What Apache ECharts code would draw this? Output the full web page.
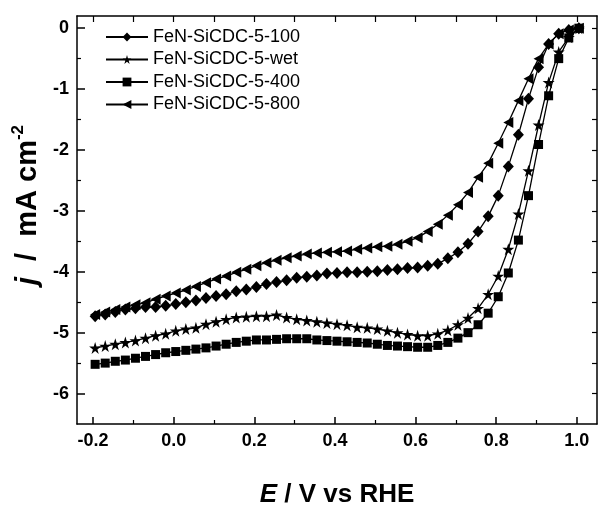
<!DOCTYPE html>
<html>
<head>
<meta charset="utf-8">
<script src="https://cdn.jsdelivr.net/npm/echarts@6/dist/echarts.min.js"></script>
<style>html,body{margin:0;padding:0;background:#fff}#c{width:598px;height:506px}</style>
</head>
<body>
<div id="c"></div>
<script>
const potentials = [-0.195,-0.17,-0.145,-0.12,-0.095,-0.07,-0.045,-0.02,0.005,0.03,0.055,0.08,0.105,0.13,0.155,0.18,0.205,0.23,0.255,0.28,0.305,0.33,0.355,0.38,0.405,0.43,0.455,0.48,0.505,0.53,0.555,0.58,0.605,0.63,0.655,0.68,0.705,0.73,0.755,0.78,0.805,0.83,0.855,0.88,0.905,0.93,0.955,0.98,1.005];
const s100 = [-4.73,-4.70,-4.66,-4.62,-4.60,-4.58,-4.58,-4.56,-4.53,-4.50,-4.47,-4.43,-4.40,-4.37,-4.32,-4.29,-4.25,-4.20,-4.17,-4.14,-4.10,-4.08,-4.06,-4.03,-4.02,-4.01,-4.01,-4.00,-3.99,-3.97,-3.96,-3.94,-3.93,-3.90,-3.87,-3.78,-3.68,-3.54,-3.34,-3.09,-2.75,-2.27,-1.75,-1.16,-0.64,-0.26,-0.09,-0.03,0.0];
const sWet = [-5.25,-5.22,-5.19,-5.16,-5.13,-5.09,-5.05,-5.02,-4.97,-4.94,-4.92,-4.86,-4.82,-4.78,-4.75,-4.74,-4.73,-4.73,-4.71,-4.75,-4.78,-4.80,-4.82,-4.84,-4.86,-4.88,-4.91,-4.92,-4.94,-4.97,-5.00,-5.03,-5.05,-5.05,-5.02,-4.96,-4.87,-4.76,-4.60,-4.37,-4.07,-3.63,-3.05,-2.34,-1.59,-0.89,-0.39,-0.15,0.0];
const s400 = [-5.52,-5.50,-5.47,-5.45,-5.42,-5.39,-5.36,-5.33,-5.31,-5.29,-5.27,-5.25,-5.22,-5.19,-5.16,-5.14,-5.12,-5.12,-5.11,-5.10,-5.10,-5.10,-5.12,-5.13,-5.14,-5.15,-5.16,-5.17,-5.19,-5.21,-5.22,-5.23,-5.24,-5.24,-5.21,-5.16,-5.09,-5.00,-4.87,-4.68,-4.41,-4.02,-3.48,-2.75,-1.91,-1.11,-0.50,-0.16,0.0];
const s800 = [-4.70,-4.66,-4.62,-4.58,-4.54,-4.51,-4.45,-4.40,-4.35,-4.30,-4.24,-4.18,-4.12,-4.07,-4.01,-3.96,-3.90,-3.85,-3.81,-3.77,-3.74,-3.71,-3.69,-3.68,-3.67,-3.66,-3.63,-3.61,-3.59,-3.58,-3.55,-3.50,-3.44,-3.34,-3.22,-3.07,-2.90,-2.70,-2.45,-2.22,-1.89,-1.55,-1.19,-0.83,-0.50,-0.26,-0.09,-0.03,0.0];
const seriesNames = ['FeN-SiCDC-5-100','FeN-SiCDC-5-wet','FeN-SiCDC-5-400','FeN-SiCDC-5-800'];
const xTicks = [-0.2,0.0,0.2,0.4,0.6,0.8,1.0];
const xMinorTicks = [-0.1,0.1,0.3,0.5,0.7,0.9];
const xTopTicks = [-0.2,-0.1,0.0,0.1,0.2,0.3,0.4,0.5,0.6,0.7,0.8,0.9,1.0];
const yTicks = [0,-1,-2,-3,-4,-5,-6];
const yMinorTicks = [-0.5,-1.5,-2.5,-3.5,-4.5,-5.5];
const yRightTicks = [0,-0.5,-1,-1.5,-2,-2.5,-3,-3.5,-4,-4.5,-5,-5.5,-6];

const XMIN = -0.24, XMAX = 1.05, YMIN = -6.5, YMAX = 0.2;
const FONT = 'Liberation Sans, Arial, sans-serif';
const STAR = 'path://M50,0 L61,35 L98,35 L68,57 L79,91 L50,70 L21,91 L32,57 L2,35 L39,35 Z';

function pairs(ys){ return potentials.map((x,i)=>[x, ys[i]]); }

function axLine(show){ return {show:show, onZero:false, lineStyle:{color:'#000', width:1.5}}; }
function xAx(opts){
  return Object.assign({type:'value', min:XMIN, max:XMAX, splitLine:{show:false}, axisLine:axLine(true)}, opts);
}
function yAx(opts){
  return Object.assign({type:'value', min:YMIN, max:YMAX, splitLine:{show:false}, axisLine:axLine(true)}, opts);
}

const option = {
  animation:false,
  backgroundColor:'#fff',
  grid:{left:77, right:1, top:16, bottom:82, containLabel:false, outerBoundsMode:'none'},
  legend:{
    left:100, top:23, orient:'vertical', itemWidth:42, itemHeight:11, itemGap:4.5,
    textStyle:{fontFamily:FONT, fontSize:18, color:'#000'},
    data:seriesNames
  },
  xAxis:[
    xAx({position:'bottom',
      axisTick:{show:true, inside:true, length:7, lineStyle:{color:'#000', width:1.5}, customValues:xTicks},
      axisLabel:{show:true, customValues:xTicks, formatter:v=>v.toFixed(1), fontFamily:FONT, fontWeight:'bold', fontSize:18, color:'#000', margin:8},
      name:'{i|E} / V vs RHE', nameLocation:'middle', nameGap:58,
      nameTextStyle:{fontFamily:FONT, fontWeight:'bold', fontSize:26, color:'#000', rich:{i:{fontFamily:FONT, fontWeight:'bold', fontStyle:'italic', fontSize:26, color:'#000'}}}
    }),
    xAx({position:'bottom', axisLine:axLine(false),
      axisTick:{show:true, inside:true, length:4, lineStyle:{color:'#000', width:1.2}, customValues:xMinorTicks},
      axisLabel:{show:false}
    }),
    xAx({position:'top',
      axisTick:{show:true, inside:true, length:6, lineStyle:{color:'#000', width:1.2}, customValues:xTopTicks},
      axisLabel:{show:false}
    })
  ],
  yAxis:[
    yAx({position:'left',
      axisTick:{show:true, inside:true, length:8, lineStyle:{color:'#000', width:1.5}, customValues:yTicks},
      axisLabel:{show:true, customValues:yTicks, formatter:v=>String(v), fontFamily:FONT, fontWeight:'bold', fontSize:18, color:'#000', margin:8},
      name:'{i|j}  /  mA cm{s|-2}', nameLocation:'middle', nameGap:31, nameRotate:90,
      nameTextStyle:{fontFamily:FONT, fontWeight:'bold', fontSize:29, color:'#000', padding:[0,0,0,30], rich:{
        i:{fontFamily:FONT, fontWeight:'bold', fontStyle:'italic', fontSize:29, color:'#000'},
        s:{fontFamily:FONT, fontWeight:'bold', fontSize:17, color:'#000', verticalAlign:'top', padding:[0,0,18,0]}
      }}
    }),
    yAx({position:'left', axisLine:axLine(false),
      axisTick:{show:true, inside:true, length:4, lineStyle:{color:'#000', width:1.2}, customValues:yMinorTicks},
      axisLabel:{show:false}
    }),
    yAx({position:'right',
      axisTick:{show:true, inside:true, length:5, lineStyle:{color:'#000', width:1.2}, customValues:yRightTicks},
      axisLabel:{show:false}
    })
  ],
  series:[
    {name:seriesNames[0], type:'line', data:pairs(s100), symbol:'diamond', symbolSize:[11,12]},
    {name:seriesNames[1], type:'line', data:pairs(sWet), symbol:STAR, symbolSize:12},
    {name:seriesNames[2], type:'line', data:pairs(s400), symbol:'rect', symbolSize:9},
    {name:seriesNames[3], type:'line', data:pairs(s800), symbol:'triangle', symbolRotate:90, symbolSize:[11,10]}
  ].map(s=>Object.assign(s,{xAxisIndex:0, yAxisIndex:0, showAllSymbol:true, color:'#000',
    itemStyle:{color:'#000', borderWidth:0}, lineStyle:{color:'#000', width:1.3}, emphasis:{disabled:true}, z:3}))
};
const chart = echarts.init(document.getElementById('c'), null, {renderer:'canvas'});
chart.setOption(option);
</script>
</body>
</html>
